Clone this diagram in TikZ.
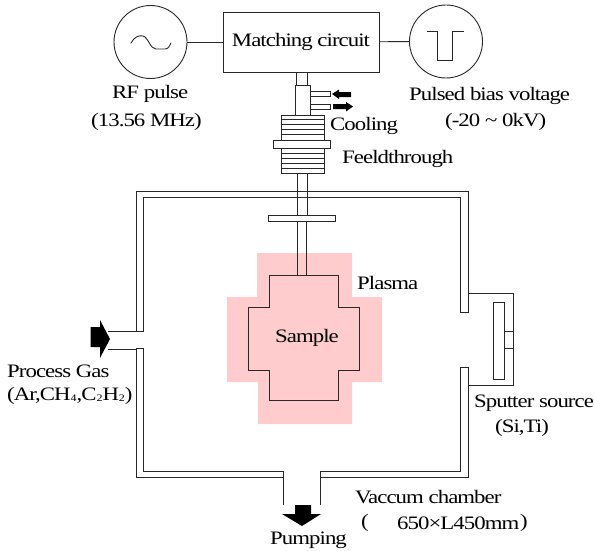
\documentclass[tikz,border=0pt]{standalone}
\usepackage{fontspec}
\setmainfont{Liberation Serif}
\newfontfamily\labf[FakeStretch=1.2,LetterSpace=-5]{Liberation Serif}
\newcommand{\subn}[1]{\raisebox{-1pt}{\fontsize{10}{10}\selectfont #1}}
\definecolor{plasma}{RGB}{254,204,204}
\definecolor{ln}{RGB}{40,40,40}
\tikzset{x=1pt,y=-1pt,
 wire/.style={draw=ln,line width=0.9pt},
 lab/.style={font=\fontsize{19}{21}\labf,inner sep=0pt,anchor=west,text=black},
 source/.style={circle,draw=ln,line width=0.9pt,minimum size=73pt,inner sep=0pt},
 fillblack/.style={fill=black,draw=none}}
\begin{document}
\begin{tikzpicture}
\useasboundingbox (0,0) rectangle (594,551);
% plasma
\fill[plasma] (257,253)--(352,253)--(352,297)--(382,297)--(382,382)--(352,382)--(352,424)--(258,424)--(258,382)--(227,382)--(227,297)--(257,297)--cycle;
% sources and box
\node[source] (rf) at (150.5,42) {};
\node[source] (bias) at (446,41.5) {};
\node[draw=ln,line width=0.9pt,minimum width=156pt,minimum height=60pt,inner sep=0pt,font=\fontsize{19}{21}\labf] (mc) at (301,42) {Matching circuit};
\draw[wire] (rf)--(mc);
\draw[wire] (mc)--(bias);
\draw[wire,line cap=round] (131,43) .. controls (134,37) and (139,35) .. (143,36) .. controls (149,38) and (150,49) .. (156,49) -- (165,49) .. controls (168,49) and (170,46) .. (171,43);
\draw[wire] (427,31)--(437,31)--(437,60)--(452,60)--(452,31)--(464,31);
% stem
\draw[wire] (296,72)--(296,85) (307,72)--(307,85);
\draw[wire,fill=white] (295,85) rectangle (310,115);
\draw[wire] (310,91) rectangle (330,96);
\draw[wire] (310,104) rectangle (330,109);
\fill[fillblack] (332,94)--(339,89.5)--(339,92)--(351,92)--(351,97)--(339,97)--(339,99)--cycle;
\fill[fillblack] (353,106.5)--(346,102)--(346,104)--(333,104)--(333,109)--(346,109)--(346,111.5)--cycle;
% coils
\draw[wire] (281,115) rectangle (324,140);
\foreach \y in {119,124,129,134}{\draw[wire] (281,\y)--(324,\y);}
\draw[wire,fill=white] (273.5,140) rectangle (330,148);
\draw[wire] (281,148) rectangle (324,173);
\foreach \y in {153,158,163,168}{\draw[wire] (281,\y)--(324,\y);}
\draw[wire] (297,173)--(297,215) (307,173)--(307,215);
% chamber
\draw[wire] (108,331)--(143,331)--(143,197)--(460.5,197)--(460.5,312)--(468.5,312)--(468.5,191)--(136,191)--(136,331);
\draw[wire] (468.5,293)--(513,293)--(513,385)--(468.5,385);
\draw[wire] (460.5,367)--(468.5,367)--(468.5,477)--(320,477);
\draw[wire] (460.5,367)--(460.5,471)--(320,471);
\draw[wire] (320,471)--(320,505);
\draw[wire] (108,349)--(136,349);
\draw[wire] (143,348)--(136,348)--(136,477)--(283,477);
\draw[wire] (143,348)--(143,471)--(283,471)--(283,505);
% sputter target
\draw[wire] (493.5,302) rectangle (504,379);
\draw[wire] (504,331) rectangle (513,348);
% feed rod and lower flange
\draw[wire,fill=white] (268,215) rectangle (335,221);
\draw[wire] (297,221)--(297,275) (306,221)--(306,275);
% sample
\draw[wire] (269,275)--(338,275)--(338,307)--(359,307)--(359,370)--(338,370)--(338,400)--(269,400)--(269,370)--(248,370)--(248,307)--(269,307)--cycle;
% arrows
\fill[fillblack] (110,339)--(100,320)--(100,327)--(90.5,327)--(90.5,347)--(100,347)--(100,358)--cycle;
\fill[fillblack] (302,526)--(282,514)--(295,514)--(295,505)--(311,505)--(311,514)--(321,514)--cycle;
% labels
\node[lab] (t1) at (112,94) {RF pulse};
\node[lab] (t2) at (91,122) {(13.56 MHz)};
\node[lab] (t3) at (409,96) {Pulsed bias voltage};
\node[lab] (t4) at (445,122) {(-20 \textasciitilde{} 0kV)};
\node[lab] (t5) at (330,126) {Cooling};
\node[lab] (t6) at (342,159) {Feeldthrough};
\node[lab] (t7) at (357,283) {Plasma};
\node[lab] (t8) at (275,338) {Sample};
\node[lab] (t9) at (7,371) {Process Gas};
\node[lab] (t10) at (7,396) {(Ar,CH\subn{4},C\subn{2}H\subn{2})};
\node[lab] (t11) at (474,403) {Sputter source};
\node[lab] (t12) at (495,428) {(Si,Ti)};
\node[lab] (t13) at (355,497) {Vaccum chamber};
\node[lab] (t14) at (361,523) {(};
\node[lab] (t15) at (397,523) {650×L450mm};
\node[lab] (t16) at (520,523) {)};
\node[lab] (t17) at (270,540) {Pumping};
\end{tikzpicture}
\end{document}
